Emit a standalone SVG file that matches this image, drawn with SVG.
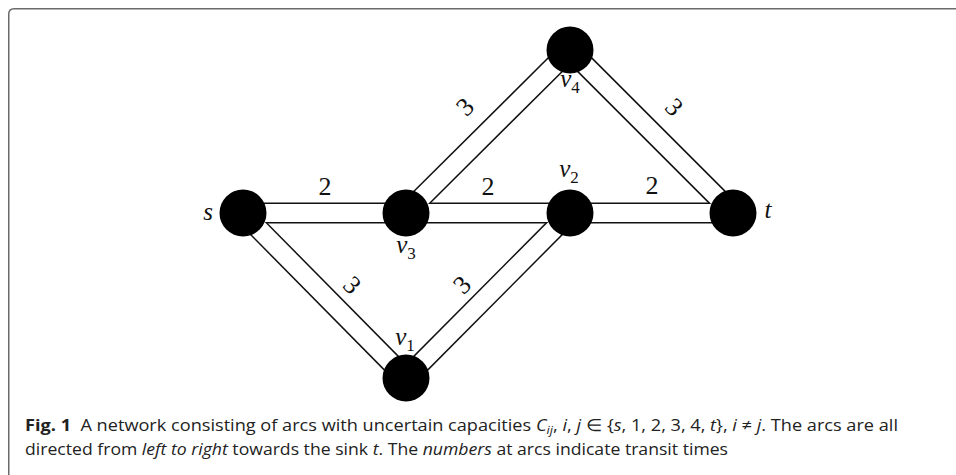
<svg xmlns="http://www.w3.org/2000/svg" width="956" height="475" viewBox="0 0 956 475">
  <style>
    .frame { fill: none; stroke: #6b6b6b; stroke-width: 1.5; }
    .tube-outer { fill: none; stroke: #111; stroke-width: 21; stroke-linecap: butt; }
    .tube-inner { fill: none; stroke: #fff; stroke-width: 18; stroke-linecap: butt; }
    .node { fill: #000; }
    .lbl { font-family: "Liberation Serif", "DejaVu Serif", serif; font-size: 25px; fill: #111; font-style: italic; text-anchor: middle; }
    .sub { font-size: 17px; font-style: normal; }
    .w { font-family: "Liberation Serif", "DejaVu Serif", serif; font-size: 26px; fill: #111; text-anchor: middle; dominant-baseline: central; }
    .cap { font-family: "Open Sans", "Noto Sans", "Liberation Sans", sans-serif; font-size: 16.5px; fill: #222; }
    .it { font-style: italic; }
  </style>

  <!-- panel frame, open towards the right and bottom -->
  <path class="frame" d="M 8.75 480 L 8.75 14 Q 8.75 8.75 14 8.75 L 960 8.75"/>

  <!-- arcs: each drawn as a hollow tube (dark wide stroke, white core) -->
  <g id="connectors">
    <g class="tube-outer">
      <line x1="243" y1="213" x2="733" y2="213"/>
      <line x1="243" y1="213" x2="406" y2="378"/>
      <line x1="406" y1="378" x2="570" y2="213"/>
      <line x1="406" y1="213" x2="570" y2="50"/>
      <line x1="570" y1="50" x2="733" y2="213"/>
    </g>
    <g class="tube-inner">
      <line x1="243" y1="213" x2="733" y2="213"/>
      <line x1="243" y1="213" x2="406" y2="378"/>
      <line x1="406" y1="378" x2="570" y2="213"/>
      <line x1="406" y1="213" x2="570" y2="50"/>
      <line x1="570" y1="50" x2="733" y2="213"/>
    </g>
    <!-- transit times -->
    <text class="w" x="325" y="186">2</text>
    <text class="w" x="488" y="186">2</text>
    <text class="w" x="652" y="185">2</text>
    <text class="w" transform="translate(465 107) rotate(-45)">3</text>
    <text class="w" transform="translate(674 107) rotate(45)">3</text>
    <text class="w" transform="translate(352 285) rotate(45)">3</text>
    <text class="w" transform="translate(462 285) rotate(-45)">3</text>
  </g>

  <g id="node-s">
    <circle class="node" cx="243" cy="213" r="23.5"/>
    <text class="lbl" x="208" y="220">s</text>
  </g>
  <g id="node-v3">
    <circle class="node" cx="406" cy="213" r="23.5"/>
    <text class="lbl" x="406" y="253">v<tspan class="sub" dy="6">3</tspan></text>
  </g>
  <g id="node-v2">
    <circle class="node" cx="570" cy="213" r="23.5"/>
    <text class="lbl" x="569" y="177">v<tspan class="sub" dy="6">2</tspan></text>
  </g>
  <g id="node-t">
    <circle class="node" cx="733" cy="213" r="23.5"/>
    <text class="lbl" x="768" y="218">t</text>
  </g>
  <g id="node-v4">
    <circle class="node" cx="570" cy="50" r="23.5"/>
    <text class="lbl" x="570" y="87">v<tspan class="sub" dy="6">4</tspan></text>
  </g>
  <g id="node-v1">
    <circle class="node" cx="406" cy="378" r="23.5"/>
    <text class="lbl" x="405" y="345">v<tspan class="sub" dy="6">1</tspan></text>
  </g>

  <!-- caption -->
  <g id="caption">
    <text class="cap" x="25" y="431" textLength="873" lengthAdjust="spacingAndGlyphs" xml:space="preserve"><tspan font-weight="bold">Fig. 1</tspan>  A network consisting of arcs with uncertain capacities <tspan class="it">C</tspan><tspan class="it" font-size="11.5px" dy="3">ij</tspan><tspan dy="-3">, </tspan><tspan class="it">i</tspan>, <tspan class="it">j</tspan> ∈ {<tspan class="it">s</tspan>, 1, 2, 3, 4, <tspan class="it">t</tspan>}, <tspan class="it">i</tspan> ≠ <tspan class="it">j</tspan>. The arcs are all</text>
    <text class="cap" x="25" y="455" textLength="703" lengthAdjust="spacingAndGlyphs">directed from <tspan class="it">left to right</tspan> towards the sink <tspan class="it">t</tspan>. The <tspan class="it">numbers</tspan> at arcs indicate transit times</text>
  </g>
</svg>
